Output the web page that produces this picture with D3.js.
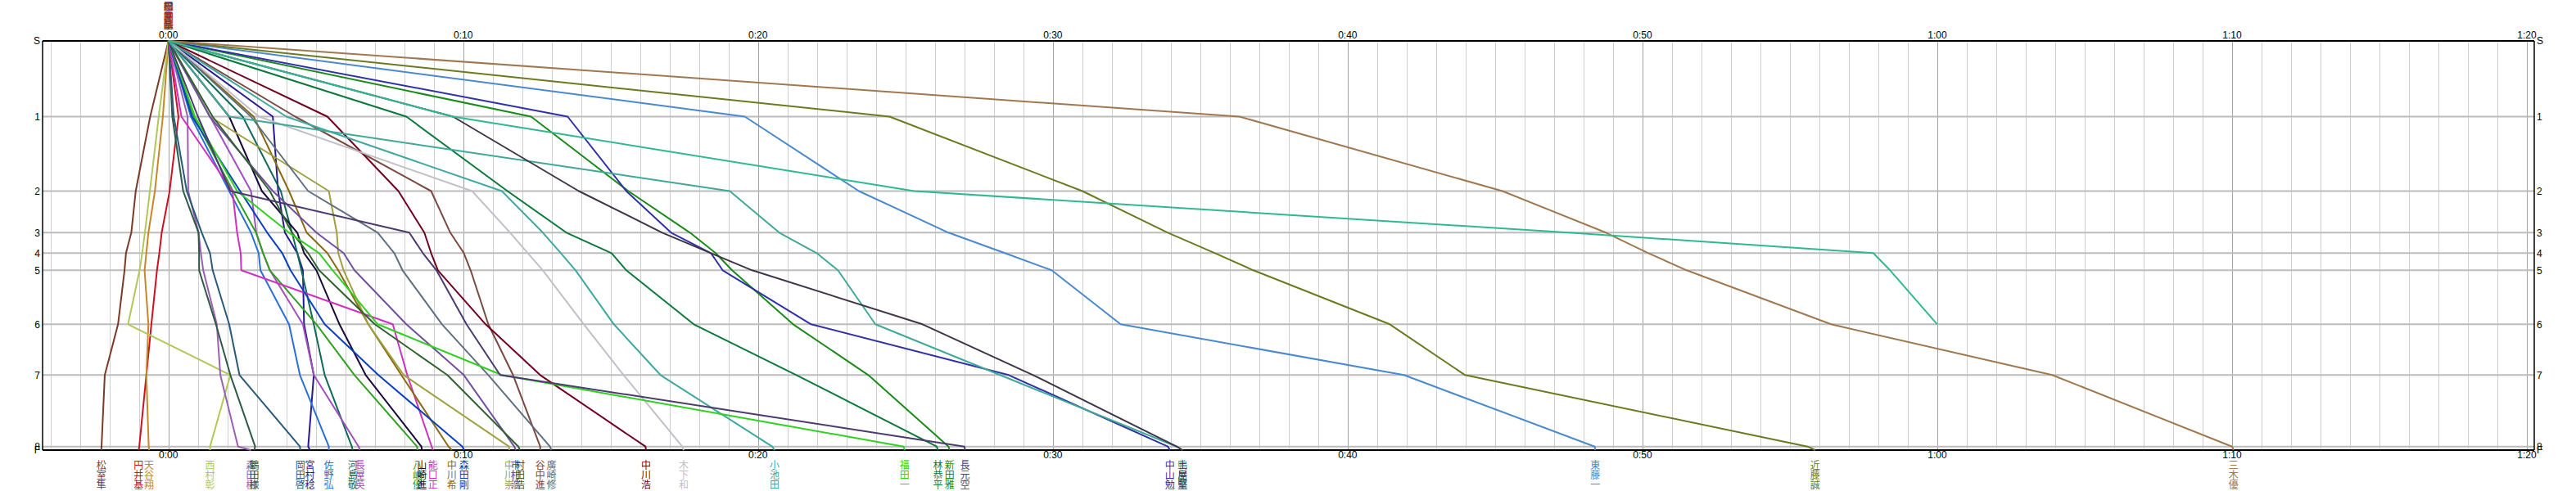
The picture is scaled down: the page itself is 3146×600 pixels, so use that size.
<!DOCTYPE html>
<html><head><meta charset="utf-8">
<script src="https://cdn.jsdelivr.net/npm/d3@7"></script>
<style>body{margin:0;background:#fff}</style>
</head><body><svg id="c" width="3146" height="600"></svg>
<script>
const stationLabels = ["S","1","2","3","4","5","6","7","8","F"];
const stationDist = [0, 92.5, 183.5, 234.3, 259.3, 280.3, 346.3, 408.3, 495.7, 500];
const tickMinutes = [0,10,20,30,40,50,60,70,80];
const tickLabels = ["0:00","0:10","0:20","0:30","0:40","0:50","1:00","1:10","1:20"];

const names = ["松室隼","円井基","天谷翔","西村彰","森田樹","鶴田様","岡田啓","宮村稔","佐野弘","河島敬",
  "長屋英","八嶋優","山崎進","能口正","中川希","森田剛","中川崇","市村浩","村田浩","谷中進",
  "廣崎修","中川浩","木下和","小池田","福田一","林恭平","新田雅","長元空","中山勉","鴨島薫",
  "土屋堅","東藤一","近藤誠","三木優","高田修"];
const colors = ["#7a3a28","#d01020","#c8862a","#b0c858","#9a60b0","#2f5a48","#2a5a7a","#2a1a90","#2a70d8","#106a58",
  "#a050c0","#30a020","#1a0a3a","#d030c0","#8a6a10","#0a40c0","#a0a040","#7050a0","#306030","#7a4a40",
  "#607080","#700020","#c0c0c8","#40a8a0","#30d020","#0a7a3a","#1a8a1a","#4a3a70","#3030a8","#40a898",
  "#403448","#4a88d0","#6a7a20","#a07850","#30b890"];
// minutes at stations 1..8 and F
const splits = [
  [-0.62,-1.11,-1.26,-1.44,-1.49,-1.71,-2.16,-2.27,-2.28],
  [0.34,0.04,-0.23,-0.31,-0.39,-0.58,-0.75,-0.99,-1.01],
  [-0.19,-0.46,-0.68,-0.75,-0.81,-0.68,-0.75,-0.67,-0.66],
  [-0.33,-0.63,-0.8,-0.89,-0.98,-1.37,2.1,1.41,1.41],
  [0.65,0.67,1.02,1.1,1.18,1.64,1.76,2.36,2.8],
  [0.13,0.5,1.02,1.04,1.04,1.61,2.1,2.94,2.91],
  [0.18,0.62,1.13,1.41,1.5,2.06,2.41,4.46,4.47],
  [3.54,3.72,3.95,4.37,4.56,4.6,4.93,4.74,4.8],
  [0.76,2.06,2.8,3.06,3.12,4.09,4.46,5.44,5.44],
  [2.52,3.81,4.19,4.37,4.51,4.93,5.3,6.22,6.25],
  [1.41,2.8,2.98,3.21,3.44,4.56,4.93,6.45,6.5],
  [0.85,2.19,2.97,3.21,3.44,5.02,6.31,8.43,8.45],
  [2.06,3.17,4.37,4.6,5.02,5.8,6.69,8.58,8.6],
  [0.44,2.17,2.33,2.45,2.47,7.61,8.1,8.93,8.97],
  [2.89,4.09,4.69,5.39,5.76,6.78,7.9,9.5,9.61],
  [0.8,2.43,3.35,3.86,4.14,5.3,7.12,9.97,10.03],
  [1.41,5.44,5.71,5.76,5.94,6.78,7.98,11.55,11.56],
  [1.4,3.54,5.02,5.94,6.31,8.07,10.02,11.73,11.78],
  [1.5,3.44,4.19,4.74,5.11,7.0,9.46,11.87,11.92],
  [4.3,8.91,9.56,10.02,10.25,10.85,11.69,12.61,12.61],
  [2.8,4.74,7.1,7.66,7.94,9.28,10.85,12.94,12.99],
  [5.39,7.8,8.68,8.91,9.14,10.76,12.61,16.18,16.2],
  [3.07,10.3,11.59,12.19,12.7,14.09,15.44,17.43,17.48],
  [4.0,11.31,12.7,13.31,13.81,15.11,16.69,20.48,20.56],
  [0.9,2.33,4.09,5.11,5.57,7.1,11.31,24.94,24.97],
  [8.07,11.5,13.5,15.03,15.53,17.82,21.3,26.06,26.1],
  [12.3,15.6,17.69,18.56,19.12,21.19,23.74,26.46,26.5],
  [1.0,2.1,8.17,8.63,9.09,10.11,11.25,27.0,27.02],
  [13.54,15.53,17.05,18.4,18.8,21.8,28.5,33.9,33.97],
  [2.06,19.04,20.72,21.99,22.71,23.98,28.21,34.2,34.4],
  [9.65,13.92,16.75,18.4,19.8,25.58,29.33,34.2,34.4],
  [19.55,23.42,26.46,28.37,29.96,32.3,41.91,48.38,48.4],
  [24.46,31.0,33.9,35.5,36.8,41.43,43.98,55.6,55.86],
  [36.33,45.25,48.76,50.2,51.5,56.4,63.9,70.0,70.05],
  [9.65,25.3,47.5,57.83,58.4,60.0]
];

const svg = d3.select("#c");
const x = d3.scaleLinear().domain([-4.27, 80.25]).range([52, 3095]);
const y = d3.scaleLinear().domain([0, 500]).range([50, 550]);
const font = "'Liberation Sans', Arial, sans-serif";
const cjk = "'Noto Sans CJK JP', sans-serif";

// vertical grid, every minute
const minutes = d3.range(-4, 81);
svg.append("g").selectAll("line").data(minutes).join("line")
  .attr("x1", d => Math.round(x(d)) + 0.5).attr("x2", d => Math.round(x(d)) + 0.5)
  .attr("y1", y(0)).attr("y2", y(500))
  .attr("stroke", d => d % 10 === 0 ? "#a0a0a0" : "#d0d0d0").attr("stroke-width", 1);

// horizontal station grid
svg.append("g").selectAll("line").data(stationDist.slice(1, 9)).join("line")
  .attr("x1", x.range()[0]).attr("x2", x.range()[1])
  .attr("y1", d => y(d)).attr("y2", d => y(d))
  .attr("stroke", "#bcbcbc").attr("stroke-width", 2);

// frame
const fr = svg.append("g").attr("stroke", "#000");
fr.append("line").attr("x1", x.range()[0]).attr("x2", x.range()[1]).attr("y1", y(0)).attr("y2", y(0)).attr("stroke-width", 2);
fr.append("line").attr("x1", x.range()[0]).attr("x2", x.range()[1]).attr("y1", y(500)).attr("y2", y(500)).attr("stroke-width", 2);
fr.append("line").attr("x1", x.range()[0]).attr("x2", x.range()[0]).attr("y1", y(0)).attr("y2", y(500)).attr("stroke-width", 1.5);
fr.append("line").attr("x1", x.range()[1]).attr("x2", x.range()[1]).attr("y1", y(0)).attr("y2", y(500)).attr("stroke-width", 1.5);

// time tick labels top and bottom
[43, 556].forEach(yy => {
  svg.append("g").selectAll("text").data(tickMinutes).join("text")
    .attr("x", d => x(d)).attr("y", yy).attr("dy", "0.35em")
    .attr("text-anchor", "middle").attr("font-family", font).attr("font-size", 12)
    .text((d, i) => tickLabels[i]);
});

// station labels left and right
svg.append("g").selectAll("text").data(stationDist).join("text")
  .attr("x", x.range()[0] - 3).attr("y", d => y(d)).attr("dy", "0.35em")
  .attr("text-anchor", "end").attr("font-family", font).attr("font-size", 12)
  .text((d, i) => stationLabels[i]);
svg.append("g").selectAll("text").data(stationDist).join("text")
  .attr("x", x.range()[1] + 3).attr("y", d => y(d)).attr("dy", "0.35em")
  .attr("text-anchor", "start").attr("font-family", font).attr("font-size", 12)
  .text((d, i) => stationLabels[i]);

// runner lines
const line = d3.line().x(d => x(d[0])).y(d => y(d[1]));
const data = names.map((n, i) => ({
  name: n, color: colors[i],
  pts: [[0, 0]].concat(splits[i].map((t, k) => [t, stationDist[k + 1]])),
  finished: splits[i].length === 9
}));
svg.append("g").selectAll("path").data(data).join("path")
  .attr("d", d => line(d.pts)).attr("fill", "none")
  .attr("stroke", d => d.color).attr("stroke-width", 2).attr("stroke-linejoin", "round");

// vertical name labels at finish
const labG = svg.append("g");
data.filter(d => d.finished).forEach(d => {
  const fx = x(d.pts[d.pts.length - 1][0]);
  labG.append("g").selectAll("text").data(Array.from(d.name)).join("text")
    .attr("x", fx).attr("y", (c, k) => 569 + k * 11.7).attr("dy", "0.35em")
    .attr("text-anchor", "middle").attr("font-family", cjk).attr("font-size", 12)
    .attr("fill", d.color).text(c => c);
});
// stacked names at the start (all overlapping)
const stG = svg.append("g");
data.slice().reverse().forEach(d => {
  stG.append("g").selectAll("text").data(Array.from(d.name)).join("text")
    .attr("x", x(0)).attr("y", (c, k) => 8.5 + k * 11.5).attr("dy", "0.35em")
    .attr("text-anchor", "middle").attr("font-family", cjk).attr("font-size", 11)
    .attr("fill", d.color).text(c => c);
});
</script></body></html>
